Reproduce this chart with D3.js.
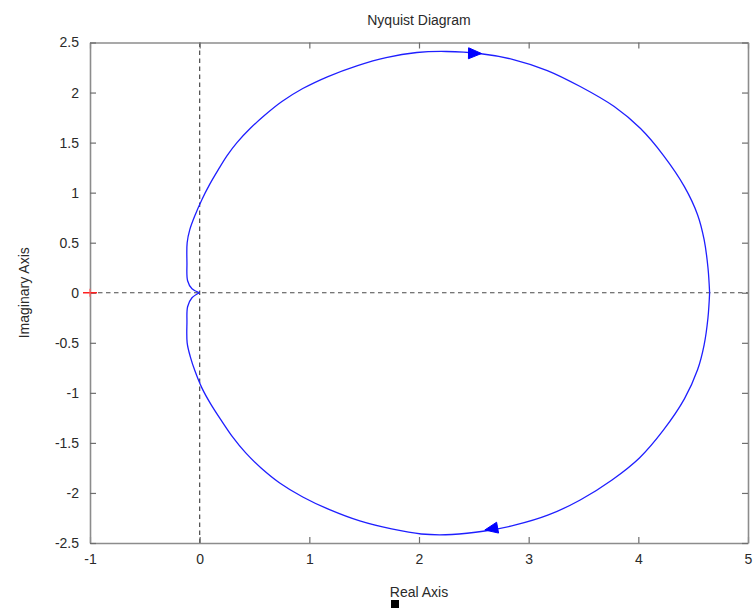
<!DOCTYPE html>
<html>
<head>
<meta charset="utf-8">
<script src="https://cdn.jsdelivr.net/npm/d3@7"></script>
<style>
  html, body { margin: 0; padding: 0; background: #fff; }
  svg { display: block; font-family: "Liberation Sans", Arial, sans-serif; }
</style>
</head>
<body>
<svg id="chart" width="754" height="608"></svg>
<script>
// Nyquist curve, branch for negative frequencies (origin -> over the top -> real-axis crossing)
const upperRe = [0, -0.07, -0.11, -0.116, -0.114, -0.09, -0.04, 0.02, 0.09, 0.17, 0.25, 0.34, 0.46, 0.59, 0.75, 0.94, 1.17, 1.44, 1.70, 1.98, 2.25, 2.55, 2.86, 3.17, 3.47, 3.78, 4.02, 4.23, 4.42, 4.54, 4.60, 4.635, 4.65];
const upperIm = [0, 0.04, 0.12, 0.30, 0.50, 0.63, 0.78, 0.93, 1.08, 1.23, 1.37, 1.50, 1.64, 1.77, 1.91, 2.04, 2.16, 2.27, 2.35, 2.40, 2.41, 2.39, 2.33, 2.22, 2.06, 1.86, 1.64, 1.37, 1.06, 0.78, 0.53, 0.25, 0];

// Branch for positive frequencies (real-axis crossing -> under the bottom -> origin)
const lowerRe = [4.65, 4.635, 4.60, 4.54, 4.42, 4.23, 4.01, 3.76, 3.47, 3.18, 2.88, 2.60, 2.30, 2.02, 1.75, 1.46, 1.19, 0.94, 0.73, 0.56, 0.42, 0.30, 0.20, 0.10, 0.02, -0.04, -0.085, -0.114, -0.116, -0.11, -0.07, 0];
const lowerIm = [0, -0.25, -0.52, -0.77, -1.06, -1.37, -1.65, -1.87, -2.07, -2.22, -2.32, -2.38, -2.415, -2.41, -2.36, -2.28, -2.17, -2.04, -1.90, -1.75, -1.60, -1.44, -1.28, -1.11, -0.95, -0.79, -0.64, -0.50, -0.30, -0.14, -0.05, 0];

// Direction arrows: tip position and travel direction
const arrowRe = [2.57, 2.60];
const arrowIm = [2.39, -2.37];
const arrowDx = [1, -1];      // along the real axis
const arrowDy = [-0.02, -0.2]; // along the imaginary axis

const xTicks = [-1, 0, 1, 2, 3, 4, 5];
const yTicks = [2.5, 2, 1.5, 1, 0.5, 0, -0.5, -1, -1.5, -2, -2.5];

const titleText = "Nyquist Diagram";
const xLabelText = "Real Axis";
const yLabelText = "Imaginary Axis";

const svg = d3.select("#chart");
const margin = { left: 90, top: 42.5, right: 6, bottom: 65 };
const W = 754, H = 608;
const iw = W - margin.left - margin.right;   // 658
const ih = 543 - margin.top;                 // 500.5

const x = d3.scaleLinear().domain([-1, 5]).range([margin.left, margin.left + iw]);
const y = d3.scaleLinear().domain([-2.5, 2.5]).range([margin.top + ih, margin.top]);

const textColor = "#2a2a2a";
const frameColor = "#8c8c8c";

// Zero reference lines
svg.append("line")
  .attr("x1", x(-1)).attr("x2", x(5)).attr("y1", y(0)).attr("y2", y(0))
  .attr("stroke", "#4a4a4a").attr("stroke-width", 1.2).attr("stroke-dasharray", "4.5,3.5");
svg.append("line")
  .attr("x1", x(0)).attr("x2", x(0)).attr("y1", y(2.5)).attr("y2", y(-2.5))
  .attr("stroke", "#4a4a4a").attr("stroke-width", 1.2).attr("stroke-dasharray", "4.5,3.5");

// Axes with inward ticks on all four sides
const fmt = d => String(d);
const gB = svg.append("g").attr("transform", `translate(0,${y(-2.5)})`)
  .call(d3.axisBottom(x).tickValues(xTicks).tickFormat(fmt).tickSizeInner(-6).tickSizeOuter(0).tickPadding(11));
const gT = svg.append("g").attr("transform", `translate(0,${y(2.5)})`)
  .call(d3.axisTop(x).tickValues(xTicks).tickFormat("").tickSizeInner(-6).tickSizeOuter(0));
const gL = svg.append("g").attr("transform", `translate(${x(-1)},0)`)
  .call(d3.axisLeft(y).tickValues(yTicks).tickFormat(fmt).tickSizeInner(-6).tickSizeOuter(0).tickPadding(11));
const gR = svg.append("g").attr("transform", `translate(${x(5)},0)`)
  .call(d3.axisRight(y).tickValues(yTicks).tickFormat("").tickSizeInner(-6).tickSizeOuter(0));

[gB, gT, gL, gR].forEach(g => {
  g.select(".domain").attr("stroke", frameColor).attr("stroke-width", 1.6);
  g.selectAll(".tick line").attr("stroke", "#6e6e6e").attr("stroke-width", 1.2);
  g.selectAll(".tick text").attr("fill", textColor)
    .style("font-family", "'Liberation Sans', Arial, sans-serif").style("font-size", "14px");
});

// Critical point marker at -1 + 0j
const cp = [x(-1), y(0)];
svg.append("line").attr("x1", cp[0] - 7).attr("x2", cp[0] + 7).attr("y1", cp[1]).attr("y2", cp[1])
  .attr("stroke", "#ff2020").attr("stroke-width", 1.5);
svg.append("line").attr("x1", cp[0]).attr("x2", cp[0]).attr("y1", cp[1] - 4).attr("y2", cp[1] + 4)
  .attr("stroke", "#ff6060").attr("stroke-width", 1.2);

// Nyquist curve
const line = d3.line().x(d => x(d[0])).y(d => y(d[1])).curve(d3.curveCatmullRom.alpha(0.5));
const upper = upperRe.map((r, i) => [r, upperIm[i]]);
const lower = lowerRe.map((r, i) => [r, lowerIm[i]]);
[upper, lower].forEach(pts => {
  svg.append("path").attr("d", line(pts))
    .attr("fill", "none").attr("stroke", "#1f1fff").attr("stroke-width", 1.3);
});

// Direction arrows
arrowRe.forEach((r, i) => {
  const tx = x(r), ty = y(arrowIm[i]);
  const ang = Math.atan2(-(arrowDy[i] * 100), arrowDx[i] * 109.7);
  const L = 13, hw = 5.5;
  const c = Math.cos(ang), s = Math.sin(ang);
  const bx = tx - L * c, by = ty - L * s;
  const p = [[tx, ty], [bx - hw * s, by + hw * c], [bx + hw * s, by - hw * c]];
  svg.append("path").attr("d", d3.line()(p) + "Z").attr("fill", "#0000ff").attr("stroke", "#0000ff").attr("stroke-width", 1);
});

// Titles
svg.append("text").attr("x", x(2)).attr("y", 25).attr("text-anchor", "middle")
  .attr("fill", textColor).style("font-size", "14px").text(titleText);
svg.append("text").attr("x", x(2)).attr("y", 597).attr("text-anchor", "middle")
  .attr("fill", textColor).style("font-size", "14px").text(xLabelText);
svg.append("text").attr("transform", `translate(29,${y(0)}) rotate(-90)`).attr("text-anchor", "middle")
  .attr("fill", textColor).style("font-size", "14px").text(yLabelText);

// Small cursor block under the x label
svg.append("rect").attr("x", 391).attr("y", 600).attr("width", 8).attr("height", 8).attr("fill", "#000");
</script>
</body>
</html>
